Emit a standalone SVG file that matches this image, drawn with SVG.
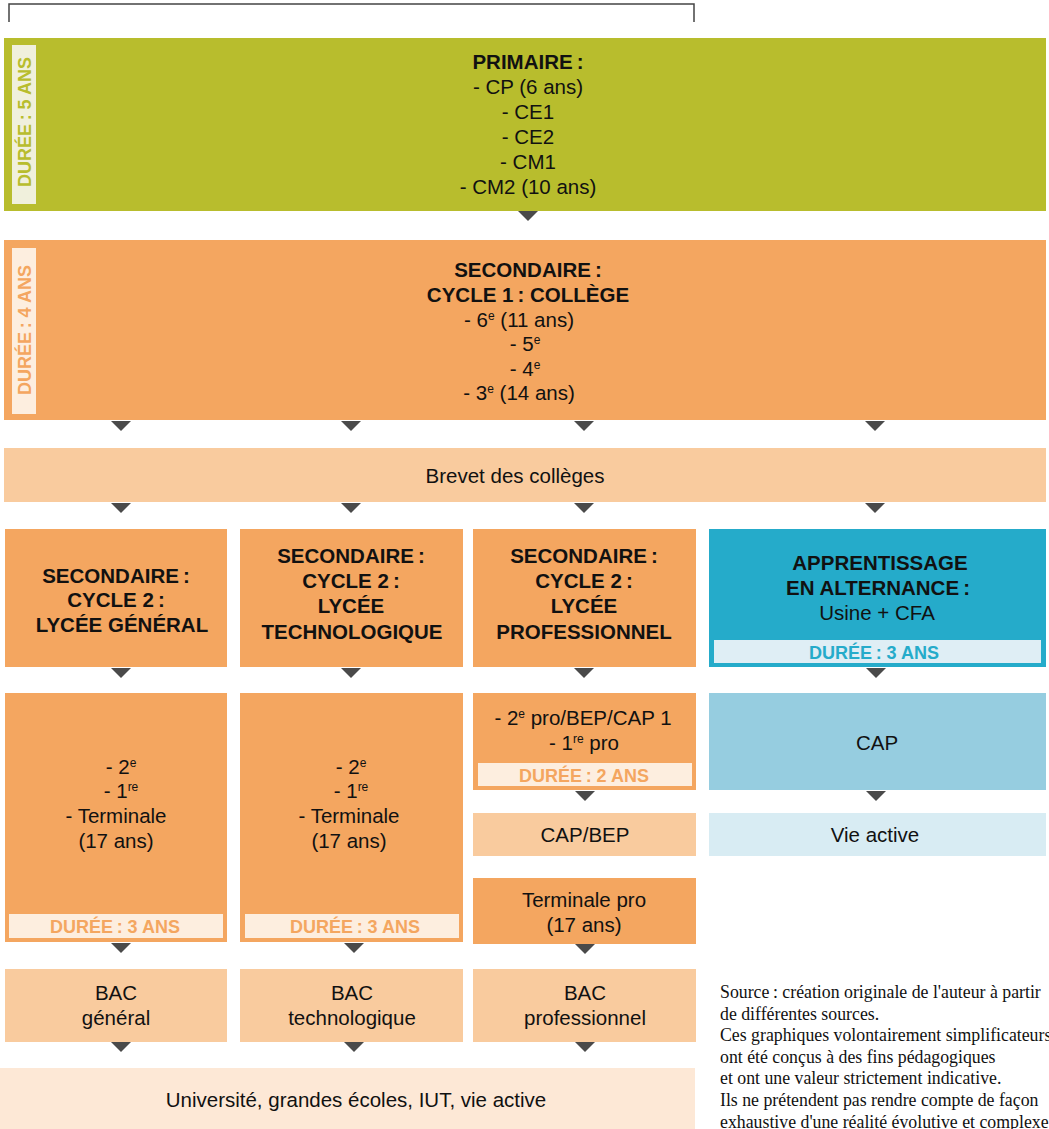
<svg xmlns="http://www.w3.org/2000/svg" width="1049" height="1129" viewBox="0 0 1049 1129">
  <style>
    text { font-family: "Liberation Sans", Arial, sans-serif; font-size: 20.5px; fill: #111; text-anchor: middle; }
    .b { font-weight: bold; }
    .sup { font-size: 12px; }
    .tag { font-weight: bold; font-size: 18px; }
    .src { font-family: "Liberation Serif", "Times New Roman", serif; font-size: 17.8px; text-anchor: start; fill: #111; }
    .green { fill: #b8bd2d; }
    .orange { fill: #f4a660; }
    .peach { fill: #f9cb9e; }
    .cream { fill: #fde8d6; }
    .inset { fill: #fdeedf; }
    .blue { fill: #25abca; }
    .lblue { fill: #96cde0; }
    .pblue { fill: #d8ecf3; }
    .arrow { fill: #4a4a4a; }
  </style>
  <defs>
    <path id="tri" d="M-10,0 L10,0 L0,10 Z"/>
  </defs>

  <!-- bracket at the top -->
  <path d="M9,22 V4 H694 V22" fill="none" stroke="#444" stroke-width="1.5"/>

  <!-- primary school -->
  <g id="primaire">
    <rect class="green" x="4" y="38" width="1042" height="173"/>
    <rect x="12" y="45" width="24" height="159" fill="#f0f0dc"/>
    <text class="tag" transform="translate(30.5,122) rotate(-90)" style="fill:#b8bd2d">DURÉE&#8201;: 5 ANS</text>
    <text class="b" x="528" y="69">PRIMAIRE&#8201;:</text>
    <text x="528" y="94">- CP (6 ans)</text>
    <text x="528" y="119">- CE1</text>
    <text x="528" y="144">- CE2</text>
    <text x="528" y="169">- CM1</text>
    <text x="528" y="194">- CM2 (10 ans)</text>
  </g>

  <!-- lower secondary -->
  <g id="college">
    <rect class="orange" x="4" y="240" width="1042" height="180"/>
    <rect class="inset" x="12" y="248" width="24" height="166"/>
    <text class="tag" transform="translate(30.5,330) rotate(-90)" style="fill:#f4a660">DURÉE&#8201;: 4 ANS</text>
    <text class="b" x="528" y="277">SECONDAIRE&#8201;:</text>
    <text class="b" x="528" y="302">CYCLE 1&#8201;: COLLÈGE</text>
    <text x="519" y="327">- 6<tspan class="sup" dy="-7">e</tspan><tspan dy="7"> (11 ans)</tspan></text>
    <text x="525" y="351">- 5<tspan class="sup" dy="-7">e</tspan></text>
    <text x="525" y="376">- 4<tspan class="sup" dy="-7">e</tspan></text>
    <text x="519" y="400">- 3<tspan class="sup" dy="-7">e</tspan><tspan dy="7"> (14 ans)</tspan></text>
  </g>

  <g id="brevet">
    <rect class="peach" x="4" y="448" width="1042" height="54"/>
    <text x="515" y="483">Brevet des collèges</text>
  </g>

  <!-- upper secondary, four tracks -->
  <g id="lycee-general">
    <rect class="orange" x="5" y="529" width="222" height="138"/>
    <text class="b" x="116" y="583">SECONDAIRE&#8201;:</text>
    <text class="b" x="116" y="607">CYCLE 2&#8201;:</text>
    <text class="b" x="122" y="632">LYCÉE GÉNÉRAL</text>
  </g>
  <g id="lycee-techno">
    <rect class="orange" x="240" y="529" width="223" height="138"/>
    <text class="b" x="351" y="563">SECONDAIRE&#8201;:</text>
    <text class="b" x="351" y="588">CYCLE 2&#8201;:</text>
    <text class="b" x="351" y="613">LYCÉE</text>
    <text class="b" x="352" y="639">TECHNOLOGIQUE</text>
  </g>
  <g id="lycee-pro">
    <rect class="orange" x="473" y="529" width="223" height="138"/>
    <text class="b" x="584" y="563">SECONDAIRE&#8201;:</text>
    <text class="b" x="584" y="588">CYCLE 2&#8201;:</text>
    <text class="b" x="584" y="613">LYCÉE</text>
    <text class="b" x="584" y="639">PROFESSIONNEL</text>
  </g>
  <g id="apprentissage">
    <rect class="blue" x="709" y="529" width="337" height="138"/>
    <rect x="714" y="640" width="327" height="23" fill="#dfeef5"/>
    <text class="b" x="880" y="570">APPRENTISSAGE</text>
    <text class="b" x="878" y="595">EN ALTERNANCE&#8201;:</text>
    <text x="877" y="620">Usine + CFA</text>
    <text class="tag" x="874" y="659" style="fill:#25abca">DURÉE&#8201;: 3 ANS</text>
  </g>

  <!-- class years -->
  <g id="annees-general">
    <rect class="orange" x="5" y="693" width="222" height="249"/>
    <rect class="inset" x="9" y="914" width="214" height="24"/>
    <text x="121" y="774">- 2<tspan class="sup" dy="-7">e</tspan></text>
    <text x="121" y="798">- 1<tspan class="sup" dy="-7">re</tspan></text>
    <text x="116" y="823">- Terminale</text>
    <text x="116" y="848">(17 ans)</text>
    <text class="tag" x="115" y="933" style="fill:#f4a660">DURÉE&#8201;: 3 ANS</text>
  </g>
  <g id="annees-techno">
    <rect class="orange" x="240" y="693" width="223" height="249"/>
    <rect class="inset" x="245" y="914" width="214" height="24"/>
    <text x="351" y="774">- 2<tspan class="sup" dy="-7">e</tspan></text>
    <text x="351" y="798">- 1<tspan class="sup" dy="-7">re</tspan></text>
    <text x="349" y="823">- Terminale</text>
    <text x="349" y="848">(17 ans)</text>
    <text class="tag" x="355" y="933" style="fill:#f4a660">DURÉE&#8201;: 3 ANS</text>
  </g>
  <g id="annees-pro">
    <rect class="orange" x="473" y="693" width="223" height="97"/>
    <rect class="inset" x="478" y="763" width="214" height="23"/>
    <text x="583" y="725">- 2<tspan class="sup" dy="-7">e</tspan><tspan dy="7"> pro/BEP/CAP 1</tspan></text>
    <text x="584" y="750">- 1<tspan class="sup" dy="-7">re</tspan><tspan dy="7"> pro</tspan></text>
    <text class="tag" x="584" y="782" style="fill:#f4a660">DURÉE&#8201;: 2 ANS</text>
  </g>
  <g id="cap-bep">
    <rect class="peach" x="473" y="813" width="223" height="43"/>
    <text x="585" y="842">CAP/BEP</text>
  </g>
  <g id="terminale-pro">
    <rect class="orange" x="473" y="878" width="223" height="66"/>
    <text x="584" y="907">Terminale pro</text>
    <text x="584" y="932">(17 ans)</text>
  </g>
  <g id="cap">
    <rect class="lblue" x="709" y="693" width="337" height="97"/>
    <text x="877" y="750">CAP</text>
  </g>
  <g id="vie-active">
    <rect class="pblue" x="709" y="813" width="337" height="43"/>
    <text x="875" y="842">Vie active</text>
  </g>

  <!-- diplomas -->
  <g id="bac-general">
    <rect class="peach" x="5" y="969" width="222" height="73"/>
    <text x="116" y="1000">BAC</text>
    <text x="116" y="1025">général</text>
  </g>
  <g id="bac-techno">
    <rect class="peach" x="240" y="969" width="223" height="73"/>
    <text x="352" y="1000">BAC</text>
    <text x="352" y="1025">technologique</text>
  </g>
  <g id="bac-pro">
    <rect class="peach" x="473" y="969" width="223" height="73"/>
    <text x="585" y="1000">BAC</text>
    <text x="585" y="1025">professionnel</text>
  </g>

  <g id="suite">
    <rect class="cream" x="0" y="1068" width="695" height="61"/>
    <text x="356" y="1107">Université, grandes écoles, IUT, vie active</text>
  </g>

  <!-- downward arrowheads between levels -->
  <g id="connectors" class="arrow">
    <use href="#tri" x="528" y="211"/>
    <use href="#tri" x="121" y="421"/>
    <use href="#tri" x="351" y="421"/>
    <use href="#tri" x="584" y="421"/>
    <use href="#tri" x="875" y="421"/>
    <use href="#tri" x="121" y="503"/>
    <use href="#tri" x="351" y="503"/>
    <use href="#tri" x="584" y="503"/>
    <use href="#tri" x="875" y="503"/>
    <use href="#tri" x="121" y="668"/>
    <use href="#tri" x="351" y="668"/>
    <use href="#tri" x="584" y="668"/>
    <use href="#tri" x="876" y="668"/>
    <use href="#tri" x="585" y="791"/>
    <use href="#tri" x="876" y="791"/>
    <use href="#tri" x="121" y="943"/>
    <use href="#tri" x="354" y="943"/>
    <use href="#tri" x="585" y="944"/>
    <use href="#tri" x="121" y="1042"/>
    <use href="#tri" x="354" y="1042"/>
    <use href="#tri" x="585" y="1042"/>
  </g>

  <!-- source note -->
  <g id="source">
    <text class="src" x="720" y="998">Source&#8201;: création originale de l'auteur à partir</text>
    <text class="src" x="720" y="1020">de différentes sources.</text>
    <text class="src" x="720" y="1041">Ces graphiques volontairement simplificateurs</text>
    <text class="src" x="720" y="1063">ont été conçus à des fins pédagogiques</text>
    <text class="src" x="720" y="1084">et ont une valeur strictement indicative.</text>
    <text class="src" x="720" y="1106">Ils ne prétendent pas rendre compte de façon</text>
    <text class="src" x="720" y="1128">exhaustive d'une réalité évolutive et complexe.</text>
  </g>
</svg>
